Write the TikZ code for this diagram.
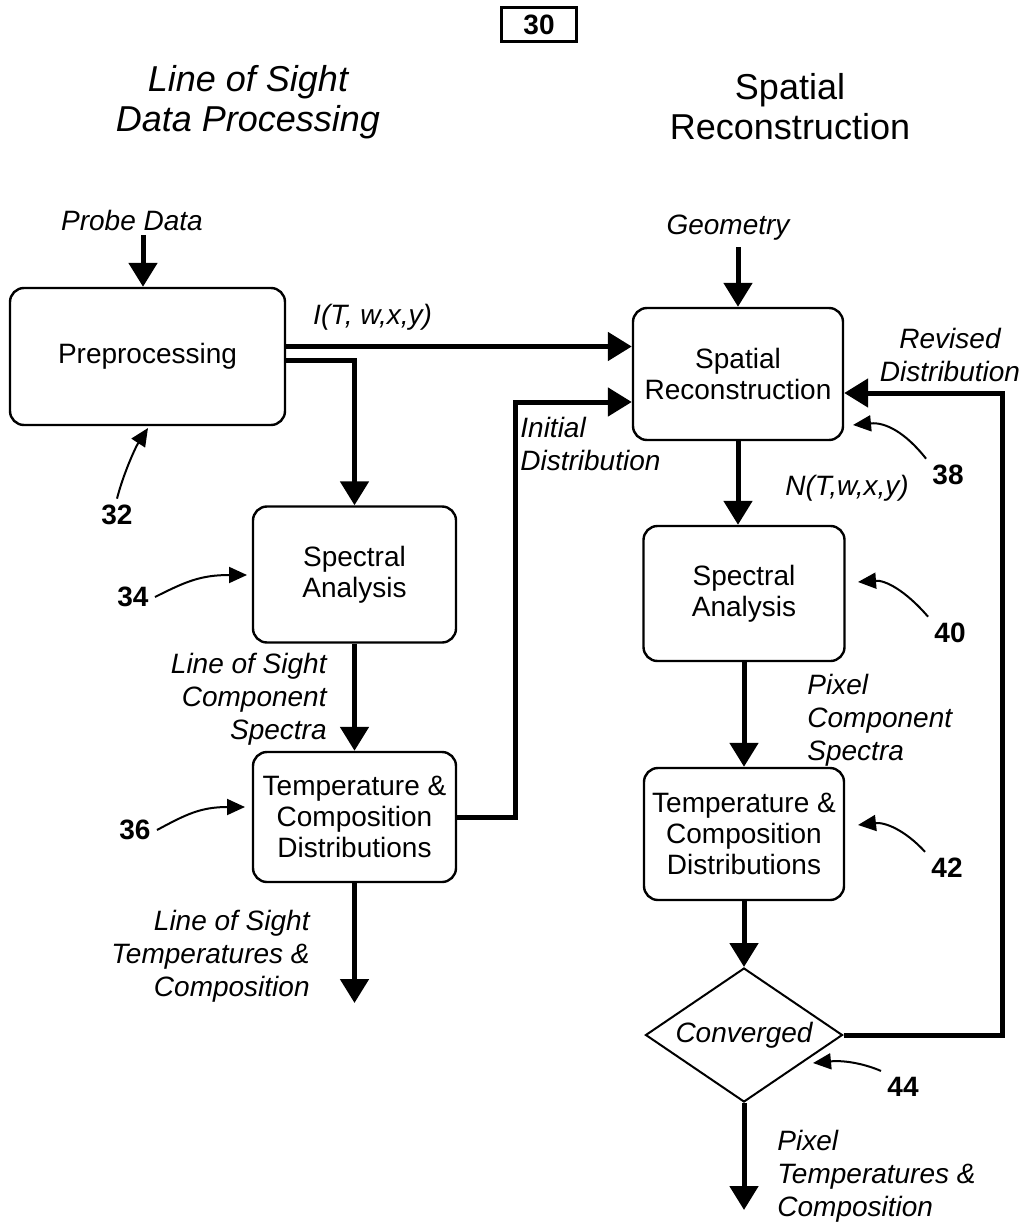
\documentclass[tikz,border=0pt]{standalone}
\usepackage{fontspec}
\setmainfont{Liberation Sans}
\usetikzlibrary{arrows.meta, shapes.geometric}

\begin{document}
\begin{tikzpicture}[
    x=0.5pt, y=-0.5pt,
    box/.style={draw, rounded corners=7pt, line width=1.2pt, align=center, inner sep=0pt, font=\fontsize{14}{15.5}\selectfont},
    decision/.style={diamond, draw, line width=1pt, aspect=1.47, inner sep=0pt, minimum width=98.5pt, minimum height=67pt, font=\itshape\fontsize{14}{16}\selectfont},
    flow/.style={-{Triangle[length=12pt,width=14pt]}, line width=2.5pt},
    callout/.style={-{Triangle[length=9pt,width=8pt]}, line width=1pt},
    lbl/.style={font=\itshape\fontsize{14}{16.5}\selectfont, inner sep=0pt},
    num/.style={font=\bfseries\fontsize{14}{16}\selectfont, inner sep=3pt},
    title/.style={font=\fontsize{18}{20}\selectfont, align=center},
    figno/.style={draw, line width=1.5pt, minimum width=37.5pt, minimum height=17pt, inner sep=0pt, font=\bfseries\fontsize{14}{16}\selectfont}
]
\useasboundingbox (0,0) rectangle (1036,1225);

% Figure number and column titles
\node[figno] (fig) at (539,25) {30};
\node[title, font=\itshape\fontsize{18}{20}\selectfont] (lostitle) at (248,102) {Line of Sight\\Data Processing};
\node[title] (srtitle) at (790,107) {Spatial\\Reconstruction};

% Left column: line of sight processing
\node[box, minimum width=137.5pt, minimum height=68.5pt] (pre) at (147.5,356.5) {Preprocessing};
\node[box, minimum width=101.5pt, minimum height=68pt] (spa) at (354.5,574.5) {Spectral\\Analysis};
\node[box, minimum width=101.5pt, minimum height=65pt] (tcl) at (354.5,817) {Temperature \&\\Composition\\Distributions};
\coordinate (losout) at (354.5,1003);

% Right column: spatial reconstruction
\node[box, minimum width=105pt, minimum height=66pt] (srec) at (738,374) {Spatial\\Reconstruction};
\node[box, minimum width=100.5pt, minimum height=67.5pt] (spr) at (744,593.5) {Spectral\\Analysis};
\node[box, minimum width=100pt, minimum height=66pt] (tcr) at (744,834) {Temperature \&\\Composition\\Distributions};
\node[decision] (conv) at (744,1035) {Converged};
\coordinate (pixout) at (744,1210);

% Inputs
\node[lbl] (probe) at (132,220) {Probe Data};
\node[lbl] (geom) at (728,228) {Geometry};
\coordinate (probein) at (143,235);
\draw[flow] (probein) -- (probein |- pre.north);
\draw[flow] ([yshift=-3pt]geom.south -| srec.north) -- (srec.north);

% Data flow
\draw[flow] ([yshift=5pt]pre.east) -- ([yshift=5pt]pre.east -| srec.west)
    node[lbl, pos=0.25, above=7pt] {I(T, w,x,y)};
\draw[flow] ([yshift=-1.75pt]pre.east) -| (spa.north);
\draw[flow] (spa) -- (tcl);
\draw[flow] (tcl) -- (losout);
\draw[flow] (srec.south) -- (srec.south |- spr.north);
\draw[flow] (spr) -- (tcr);
\draw[flow] (tcr) -- (conv);
\draw[flow] (conv) -- (pixout);

% Feedback into the reconstruction
\coordinate (initc) at (515,402);
\coordinate (revc) at (1002,393);
\draw[flow] (tcl.east) -| (initc) -- (initc -| srec.west);
\draw[flow] (conv.east) -| (revc) -- (revc -| srec.east);

% Flow labels
\node[lbl, anchor=west, align=left] (initlbl) at (520,444) {Initial\\Distribution};
\node[lbl, align=center] (revlbl) at (950,355) {Revised\\Distribution};
\node[lbl] (nlbl) at (847,488) {N(T,w,x,y)};
\node[lbl, anchor=east, align=right] (loscs) at (327,699) {Line of Sight\\Component\\Spectra};
\node[lbl, anchor=west, align=left] (pixcs) at (807,720) {Pixel\\Component\\Spectra};
\node[lbl, anchor=east, align=right] (lostc) at (310,956) {Line of Sight\\Temperatures \&\\Composition};
\node[lbl, anchor=west, align=left] (pixtc) at (777,1176) {Pixel\\Temperatures \&\\Composition};

% Reference numerals
\node[num] (n32) at (117,515) {32};
\node[num] (n34) at (133,597) {34};
\node[num] (n36) at (135,830) {36};
\node[num] (n38) at (948,475) {38};
\node[num] (n40) at (950,633) {40};
\node[num] (n42) at (947,868) {42};
\node[num] (n44) at (903,1087) {44};
\coordinate (t32) at (148,428);
\coordinate (t34) at (247,575);
\coordinate (t36) at (245,807);
\coordinate (t38) at (853,425);
\coordinate (t40) at (858,582);
\coordinate (t42) at (858,825);
\coordinate (t44) at (813,1063);
\draw[callout] (n32.north) .. controls (123,475) and (135,448) .. (t32);
\draw[callout] (n34.east) .. controls (185,582) and (200,575) .. (t34);
\draw[callout] (n36.east) .. controls (185,815) and (200,807) .. (t36);
\draw[callout] (n38.north west) .. controls (905,432) and (885,422) .. (t38);
\draw[callout] (n40.north west) .. controls (905,590) and (885,580) .. (t40);
\draw[callout] (n42.north west) .. controls (905,830) and (885,822) .. (t42);
\draw[callout] (n44.north west) .. controls (865,1064) and (845,1060) .. (t44);

\end{tikzpicture}
\end{document}
